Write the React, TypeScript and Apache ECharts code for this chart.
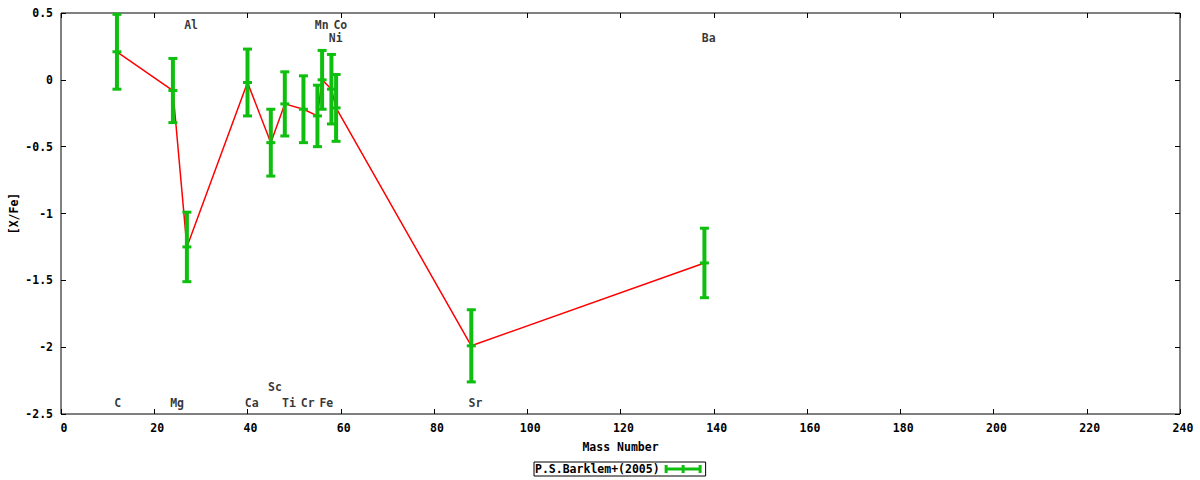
import React, { useEffect, useRef } from "react";
import * as echarts from "echarts";

// Element abundances [X/Fe] versus mass number (P.S.Barklem+ 2005)
const elements = ["C", "Mg", "Al", "Ca", "Sc", "Ti", "Cr", "Mn", "Fe", "Ni", "Co", "Sr", "Ba"];
const massNumbers = [12, 24, 27, 40, 45, 48, 52, 55, 56, 58, 59, 88, 138];
const abundances = [0.21, -0.08, -1.25, -0.02, -0.47, -0.18, -0.22, -0.27, 0.0, -0.07, -0.21, -1.99, -1.37];
const errors = [0.28, 0.24, 0.26, 0.25, 0.25, 0.24, 0.25, 0.23, 0.22, 0.26, 0.25, 0.27, 0.26];
// y (in data units) where each element name is written
const labelY = [-2.42, -2.42, 0.41, -2.42, -2.3, -2.42, -2.42, 0.41, -2.42, 0.31, 0.41, -2.42, 0.31];

const xMin = 0;
const xMax = 240;
const xStep = 20;
const yMin = -2.5;
const yMax = 0.5;
const yStep = 0.5;

const seriesName = "P.S.Barklem+(2005)";
const xTitle = "Mass Number";
const yTitle = "[X/Fe]";

const GREEN = "#0fbf0f";
const RED = "#ff0000";
const FONT = {
  fontFamily: "DejaVu Sans Mono",
  fontWeight: "bold" as const,
  fontSize: 11.5,
  color: "#000",
};

const legendIcon =
  "path://M0,0h3v8h-3z M17,0h3v8h-3z M34,0h3v8h-3z M0,2.5h37v3h-37z";

export default function App() {
  const ref = useRef<HTMLDivElement>(null);

  useEffect(() => {
    if (!ref.current) return;
    const chart = echarts.init(ref.current, null, { renderer: "svg" });

    const errData = massNumbers.map((m, i) => [m, abundances[i], errors[i]]);
    const lineData = massNumbers.map((m, i) => [m, abundances[i]]);
    const labelData = massNumbers.map((m, i) => [m, labelY[i], elements[i]]);

    const tick = { show: true, inside: true, length: 5, lineStyle: { color: "#000", width: 1 } };
    const noLine = { show: false, onZero: false };

    chart.setOption({
      animation: false,
      backgroundColor: "#fff",
      grid: {
        left: 61,
        right: 20,
        top: 13,
        bottom: 66,
        containLabel: false,
        outerBoundsMode: "none",
        show: true,
        borderColor: "#000",
        borderWidth: 1,
        backgroundColor: "transparent",
      },
      xAxis: [
        {
          type: "value",
          min: xMin,
          max: xMax,
          interval: xStep,
          position: "bottom",
          axisLine: noLine,
          axisTick: tick,
          splitLine: { show: false },
          axisLabel: { ...FONT, margin: 8, padding: [0, 0, 0, 6] },
          name: xTitle,
          nameLocation: "middle",
          nameGap: 27,
          nameMoveOverlap: false,
          nameTextStyle: FONT,
        },
        {
          type: "value",
          min: xMin,
          max: xMax,
          interval: xStep,
          position: "top",
          axisLine: noLine,
          axisTick: tick,
          splitLine: { show: false },
          axisLabel: { show: false },
        },
      ],
      yAxis: [
        {
          type: "value",
          min: yMin,
          max: yMax,
          interval: yStep,
          position: "left",
          axisLine: noLine,
          axisTick: tick,
          splitLine: { show: false },
          axisLabel: { ...FONT, margin: 8, padding: [4, 0, 0, 0] },
          name: yTitle,
          nameLocation: "middle",
          nameGap: 41,
          nameRotate: 90,
          nameMoveOverlap: false,
          nameTextStyle: { ...FONT, lineHeight: 12 },
        },
        {
          type: "value",
          min: yMin,
          max: yMax,
          interval: yStep,
          position: "right",
          axisLine: noLine,
          axisTick: tick,
          splitLine: { show: false },
          axisLabel: { show: false },
        },
      ],
      legend: {
        left: 534,
        top: 462,
        orient: "horizontal",
        align: "right",
        borderColor: "#000",
        borderWidth: 1,
        borderRadius: 0,
        padding: [1, 4, 1, 1],
        itemWidth: 37,
        itemHeight: 8,
        itemGap: 0,
        selectedMode: false,
        textStyle: { ...FONT, lineHeight: 12 },
        data: [{ name: seriesName, icon: legendIcon }],
      },
      series: [
        {
          type: "line",
          name: "line",
          data: lineData,
          symbol: "none",
          z: 1,
          lineStyle: { color: RED, width: 1.5 },
          silent: true,
        },
        {
          type: "custom",
          name: seriesName,
          data: errData,
          z: 2,
          itemStyle: { color: GREEN },
          encode: { x: 0, y: 1 },
          renderItem: (params: any, api: any) => {
            const x = api.value(0);
            const y = api.value(1);
            const e = api.value(2);
            const c = api.coord([x, y]);
            const t = api.coord([x, y + e]);
            const b = api.coord([x, y - e]);
            const style = { fill: GREEN };
            return {
              type: "group",
              children: [
                { type: "rect", shape: { x: c[0] - 2, y: t[1], width: 4, height: b[1] - t[1] }, style },
                { type: "rect", shape: { x: c[0] - 4.5, y: t[1] - 1.5, width: 9, height: 3 }, style },
                { type: "rect", shape: { x: c[0] - 4.5, y: b[1] - 1.5, width: 9, height: 3 }, style },
                { type: "rect", shape: { x: c[0] - 4.5, y: c[1] - 1.5, width: 9, height: 3 }, style },
              ],
            };
          },
        },
        {
          type: "scatter",
          name: "labels",
          data: labelData,
          symbolSize: 1,
          itemStyle: { color: "rgba(0,0,0,0)" },
          silent: true,
          z: 3,
          label: {
            show: true,
            position: [-2.2, 0.5],
            align: "left",
            verticalAlign: "middle",
            lineHeight: 10,
            formatter: (p: any) => p.data[2],
            ...FONT,
          },
        },
      ],
    });

    return () => chart.dispose();
  }, []);

  return (
    <div
      ref={ref}
      style={{ position: "absolute", left: 0, top: 0, width: 1200, height: 480, background: "#fff" }}
    />
  );
}
